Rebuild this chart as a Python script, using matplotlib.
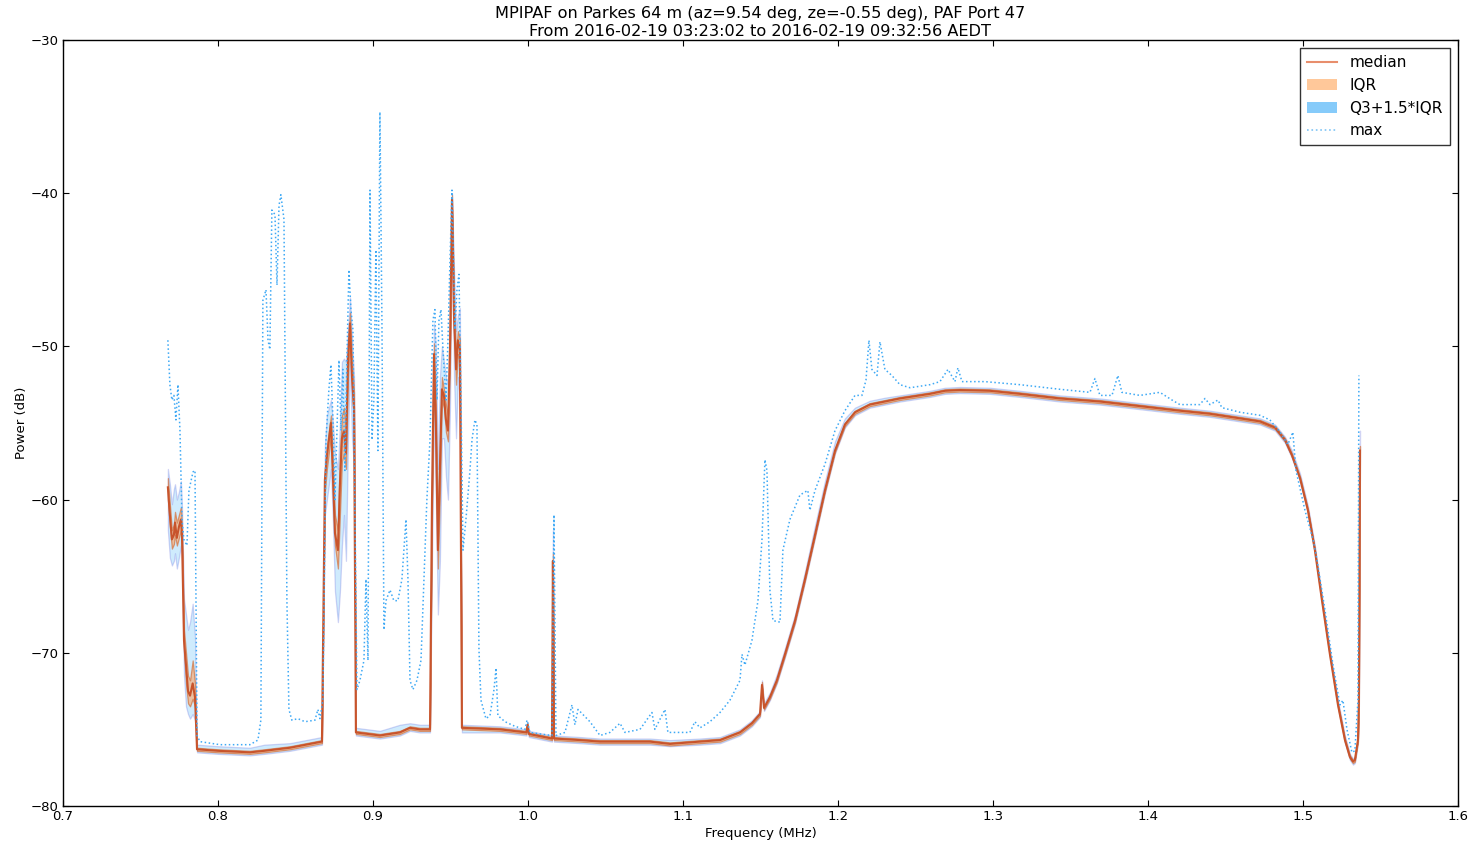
import matplotlib
matplotlib.use("Agg")
import matplotlib.pyplot as plt
from matplotlib.lines import Line2D
from matplotlib.patches import Patch
import numpy as np

# ---- data ----
freq = [0.7677, 0.7690, 0.7703, 0.7716, 0.7723, 0.7735, 0.7748, 0.7761, 0.7768, 0.7781,
        0.7794, 0.7807, 0.7820, 0.7837, 0.7852, 0.7865, 0.8000, 0.8206, 0.8300, 0.8465,
        0.8671, 0.8690, 0.8703, 0.8729, 0.8742, 0.8755, 0.8774, 0.8787, 0.8800, 0.8813,
        0.8826, 0.8839, 0.8852, 0.8865, 0.8878, 0.8890, 0.9045, 0.9174, 0.9239, 0.9303,
        0.9368, 0.9381, 0.9394, 0.9406, 0.9419, 0.9432, 0.9445, 0.9458, 0.9471, 0.9484,
        0.9497, 0.9510, 0.9523, 0.9536, 0.9548, 0.9561, 0.9574, 0.9820, 0.9990, 0.9997,
        1.0006, 1.0155, 1.0161, 1.0168, 1.0335, 1.0465, 1.0787, 1.0916, 1.1110, 1.1240,
        1.1368, 1.1445, 1.1497, 1.1510, 1.1523, 1.1561, 1.1606, 1.1658, 1.1723, 1.1787,
        1.1852, 1.1916, 1.1981, 1.2045, 1.2110, 1.2206, 1.2303, 1.2400, 1.2594, 1.2690,
        1.2787, 1.2980, 1.3174, 1.3432, 1.3690, 1.3948, 1.4206, 1.4400, 1.4594, 1.4723,
        1.4820, 1.4884, 1.4929, 1.4981, 1.5032, 1.5077, 1.5123, 1.5174, 1.5226, 1.5271,
        1.5303, 1.5323, 1.5335, 1.5355, 1.5361, 1.5368]

median = [-59.2, -61.0, -62.6, -62.3, -61.5, -62.5, -61.8, -61.3, -62.3, -69.2,
          -70.8, -72.5, -72.8, -72.0, -72.9, -76.3, -76.4, -76.5, -76.4, -76.2,
          -75.8, -58.7, -57.2, -55.0, -58.5, -62.2, -63.3, -59.0, -56.0, -55.5,
          -57.0, -50.9, -48.5, -52.0, -54.0, -75.2, -75.4, -75.2, -74.9, -75.0,
          -75.0, -60.0, -50.5, -55.0, -63.3, -58.0, -52.8, -53.2, -54.8, -55.5,
          -50.2, -40.4, -48.0, -51.5, -49.6, -50.2, -74.9, -75.0, -75.2, -74.7,
          -75.3, -75.6, -64.0, -75.6, -75.7, -75.8, -75.8, -75.95, -75.8, -75.7,
          -75.2, -74.6, -74.0, -72.1, -73.6, -72.9, -71.8, -70.1, -67.9, -65.2,
          -62.3, -59.4, -56.8, -55.1, -54.3, -53.8, -53.6, -53.4, -53.1, -52.9,
          -52.85, -52.9, -53.1, -53.4, -53.6, -53.9, -54.2, -54.4, -54.7, -54.9,
          -55.3, -56.1, -57.1, -58.6, -60.7, -63.3, -66.6, -70.1, -73.4, -75.7,
          -76.8, -77.1, -77.0, -75.7, -73.1, -56.8]

# quartile bounds (Q1, Q3) and whisker bounds (Q1-1.5*IQR, Q3+1.5*IQR)
q1 = [-60.0, -61.8, -63.2, -62.9, -62.3, -63.0, -62.5, -62.0, -63.0, -70.0,
      -72.0, -73.3, -73.5, -73.0, -73.5, -76.4, -76.5, -76.6, -76.5, -76.3,
      -75.9, -59.5, -58.0, -55.8, -59.5, -63.0, -64.5, -61.0, -57.5, -57.0,
      -58.0, -52.0, -49.5, -53.0, -55.0, -75.3, -75.5, -75.3, -75.0, -75.1,
      -75.1, -61.0, -51.5, -56.0, -64.5, -59.5, -53.5, -54.0, -55.6, -56.2,
      -51.0, -41.0, -49.0, -52.5, -50.5, -51.0, -75.0, -75.1, -75.3, -74.8,
      -75.4, -75.7, -64.5, -75.7, -75.8, -75.9, -75.9, -76.05, -75.9, -75.8,
      -75.3, -74.7, -74.1, -72.3, -73.7, -73.0, -71.9, -70.2, -68.0, -65.3,
      -62.4, -59.5, -56.9, -55.2, -54.4, -53.9, -53.7, -53.5, -53.2, -53.0,
      -52.95, -53.0, -53.2, -53.5, -53.7, -54.0, -54.3, -54.5, -54.8, -55.0,
      -55.4, -56.2, -57.2, -58.7, -60.8, -63.4, -66.7, -70.2, -73.5, -75.8,
      -76.9, -77.2, -77.1, -75.8, -73.3, -57.5]

q3 = [-58.6, -60.3, -62.0, -61.6, -60.8, -61.5, -61.0, -60.5, -61.8, -68.5,
      -70.0, -71.5, -71.8, -70.5, -72.0, -76.2, -76.3, -76.4, -76.3, -76.1,
      -75.7, -58.0, -56.5, -54.5, -57.5, -61.0, -62.0, -57.0, -54.5, -54.0,
      -55.5, -50.0, -47.8, -51.0, -53.0, -75.1, -75.3, -75.1, -74.8, -74.9,
      -74.9, -59.0, -49.8, -54.0, -62.0, -56.5, -52.0, -52.8, -53.8, -54.5,
      -49.5, -40.1, -47.0, -50.5, -49.0, -49.5, -74.8, -74.9, -75.1, -74.6,
      -75.2, -75.5, -63.5, -75.5, -75.6, -75.7, -75.7, -75.85, -75.7, -75.6,
      -75.1, -74.5, -73.9, -71.9, -73.5, -72.8, -71.7, -70.0, -67.8, -65.1,
      -62.2, -59.3, -56.7, -55.0, -54.2, -53.7, -53.5, -53.3, -53.0, -52.8,
      -52.75, -52.8, -53.0, -53.3, -53.5, -53.8, -54.1, -54.3, -54.6, -54.8,
      -55.2, -56.0, -57.0, -58.5, -60.6, -63.2, -66.5, -70.0, -73.3, -75.6,
      -76.7, -77.0, -76.9, -75.6, -72.9, -56.5]

wlo = [-62.0, -63.8, -64.3, -64.0, -63.5, -64.5, -63.8, -63.0, -64.0, -71.5,
       -73.5, -74.0, -74.3, -74.0, -74.4, -76.5, -76.6, -76.7, -76.6, -76.4,
       -76.0, -61.0, -60.0, -58.0, -61.5, -66.0, -68.0, -66.0, -63.0, -61.0,
       -64.0, -56.0, -51.0, -56.0, -58.0, -75.4, -75.6, -75.4, -75.1, -75.2,
       -75.2, -64.0, -54.0, -60.0, -67.5, -64.0, -56.0, -56.0, -58.5, -60.0,
       -54.0, -42.0, -52.0, -56.0, -52.0, -53.5, -75.2, -75.2, -75.4, -74.9,
       -75.5, -75.8, -65.0, -75.8, -75.9, -76.0, -76.0, -76.1, -76.0, -75.9,
       -75.4, -74.8, -74.2, -72.5, -73.8, -73.1, -72.0, -70.3, -68.1, -65.4,
       -62.5, -59.6, -57.0, -55.3, -54.5, -54.0, -53.8, -53.6, -53.3, -53.1,
       -53.05, -53.1, -53.3, -53.6, -53.8, -54.1, -54.4, -54.6, -54.9, -55.1,
       -55.5, -56.3, -57.3, -58.8, -60.9, -63.5, -66.8, -70.3, -73.6, -75.9,
       -77.0, -77.3, -77.2, -75.9, -73.5, -58.0]

whi = [-58.0, -59.0, -60.3, -59.3, -59.0, -60.0, -59.5, -58.8, -60.5, -66.5,
       -67.5, -68.5, -68.0, -66.8, -69.0, -76.0, -76.1, -76.2, -76.0, -75.9,
       -75.5, -56.5, -54.5, -53.5, -55.0, -57.0, -58.0, -55.0, -51.0, -50.8,
       -51.0, -49.0, -46.8, -49.5, -52.0, -74.9, -75.1, -74.7, -74.6, -74.7,
       -74.7, -56.0, -48.5, -50.0, -58.0, -52.0, -50.0, -51.0, -52.0, -52.5,
       -48.5, -40.0, -45.0, -49.0, -48.0, -47.5, -74.7, -74.8, -75.0, -74.5,
       -75.1, -75.4, -62.0, -75.4, -75.5, -75.6, -75.6, -75.7, -75.6, -75.5,
       -75.0, -74.4, -73.8, -71.8, -73.3, -72.6, -71.4, -69.7, -67.5, -64.7,
       -61.7, -58.8, -56.2, -54.7, -54.0, -53.55, -53.35, -53.2, -52.9, -52.7,
       -52.65, -52.7, -52.9, -53.2, -53.4, -53.7, -54.0, -54.2, -54.5, -54.7,
       -55.1, -55.9, -56.8, -58.3, -60.4, -63.0, -66.3, -69.8, -73.1, -75.4,
       -76.6, -76.9, -76.8, -75.4, -72.6, -55.5]

max_freq = [0.7677, 0.7690, 0.7703, 0.7716, 0.7729, 0.7742, 0.7755, 0.7768, 0.7780, 0.7800,
            0.7813, 0.7839, 0.7852, 0.7865, 0.7884, 0.8013, 0.8206, 0.8258, 0.8277, 0.8290,
            0.8310, 0.8323, 0.8335, 0.8348, 0.8368, 0.8381, 0.8394, 0.8406, 0.8426, 0.8445,
            0.8458, 0.8477, 0.8516, 0.8561, 0.8626, 0.8645, 0.8658, 0.8677, 0.8697, 0.8716,
            0.8729, 0.8742, 0.8755, 0.8768, 0.8781, 0.8794, 0.8806, 0.8819, 0.8832, 0.8845,
            0.8858, 0.8871, 0.8884, 0.8897, 0.8916, 0.8942, 0.8955, 0.8968, 0.8981, 0.8994,
            0.9006, 0.9019, 0.9032, 0.9045, 0.9058, 0.9071, 0.9084, 0.9110, 0.9135, 0.9161,
            0.9187, 0.9213, 0.9226, 0.9239, 0.9258, 0.9284, 0.9310, 0.9329, 0.9348, 0.9368,
            0.9387, 0.9400, 0.9413, 0.9426, 0.9439, 0.9452, 0.9471, 0.9484, 0.9497, 0.9510,
            0.9529, 0.9542, 0.9555, 0.9568, 0.9581, 0.9600, 0.9626, 0.9639, 0.9658, 0.9671,
            0.9684, 0.9697, 0.9729, 0.9755, 0.9781, 0.9794, 0.9806, 0.9852, 0.9916, 0.9981,
            0.9994, 1.0013, 1.0077, 1.0155, 1.0168, 1.0181, 1.0239, 1.0284, 1.0303, 1.0323,
            1.0400, 1.0465, 1.0529, 1.0594, 1.0626, 1.0723, 1.0800, 1.0819, 1.0884, 1.0903,
            1.1045, 1.1077, 1.1110, 1.1174, 1.1239, 1.1303, 1.1368, 1.1381, 1.1400, 1.1445,
            1.1484, 1.1510, 1.1529, 1.1542, 1.1561, 1.1581, 1.1626, 1.1645, 1.1690, 1.1755,
            1.1806, 1.1819, 1.1852, 1.1916, 1.1981, 1.2045, 1.2110, 1.2155, 1.2181, 1.2200,
            1.2219, 1.2252, 1.2271, 1.2303, 1.2348, 1.2400, 1.2465, 1.2594, 1.2658, 1.2710,
            1.2755, 1.2774, 1.2800, 1.2948, 1.3174, 1.3432, 1.3626, 1.3658, 1.3690, 1.3768,
            1.3806, 1.3832, 1.3948, 1.4077, 1.4155, 1.4206, 1.4335, 1.4368, 1.4400, 1.4452,
            1.4477, 1.4594, 1.4723, 1.4787, 1.4852, 1.4903, 1.4935, 1.4955, 1.5013, 1.5065,
            1.5090, 1.5142, 1.5194, 1.5239, 1.5258, 1.5284, 1.5316, 1.5335, 1.5355, 1.5361]

max_power = [-49.6, -52.5, -53.5, -53.2, -54.8, -52.5, -55.5, -61.3, -62.6, -63.0,
             -59.4, -58.2, -58.1, -75.4, -75.8, -76.0, -76.0, -75.7, -74.4, -47.0,
             -46.3, -49.6, -50.2, -41.1, -41.4, -46.0, -40.8, -40.1, -41.7, -66.6,
             -73.7, -74.4, -74.3, -74.5, -74.4, -73.7, -74.3, -73.1, -56.1, -52.8,
             -51.2, -54.8, -60.0, -55.5, -50.9, -55.5, -51.5, -58.1, -50.9, -45.0,
             -47.6, -48.9, -61.3, -72.4, -71.8, -70.5, -65.2, -70.5, -39.8, -56.1,
             -53.5, -43.7, -56.8, -34.7, -48.3, -68.5, -66.6, -65.9, -66.6, -66.6,
             -65.2, -61.3, -65.2, -71.8, -72.4, -71.8, -70.5, -65.2, -60.0, -56.1,
             -48.3, -47.6, -53.5, -48.3, -47.6, -50.2, -53.5, -49.6, -44.4, -39.8,
             -48.9, -46.3, -45.3, -53.5, -63.3, -61.3, -58.1, -56.1, -54.8, -55.1,
             -69.8, -73.1, -74.3, -74.1, -72.4, -71.0, -74.1, -74.5, -74.8, -75.0,
             -74.4, -75.2, -75.3, -75.4, -61.0, -75.4, -75.2, -73.4, -74.7, -73.7,
             -74.5, -75.4, -75.2, -74.6, -75.2, -75.0, -73.9, -75.0, -73.7, -75.2,
             -75.2, -74.5, -74.9, -74.5, -73.9, -73.1, -71.8, -70.1, -70.8, -69.2,
             -66.6, -62.6, -57.4, -58.1, -65.9, -67.9, -68.0, -63.3, -61.3, -59.7,
             -59.4, -60.7, -59.4, -57.7, -55.5, -54.2, -53.2, -53.2, -52.2, -49.6,
             -51.5, -51.9, -49.7, -51.5, -51.9, -52.5, -52.7, -52.5, -52.3, -51.5,
             -52.3, -51.4, -52.3, -52.3, -52.5, -52.8, -53.0, -52.1, -53.2, -53.2,
             -51.9, -53.0, -53.2, -53.0, -53.5, -53.8, -53.8, -53.4, -53.8, -53.5,
             -54.0, -54.3, -54.5, -54.8, -55.6, -56.4, -55.6, -58.1, -60.7, -62.6,
             -63.9, -67.2, -70.8, -73.4, -73.1, -75.0, -76.5, -76.4, -73.1, -51.9]

title = ("MPIPAF on Parkes 64 m (az=9.54 deg, ze=-0.55 deg), PAF Port 47\n"
         "From 2016-02-19 03:23:02 to 2016-02-19 09:32:56 AEDT")
xticks = [0.7, 0.8, 0.9, 1.0, 1.1, 1.2, 1.3, 1.4, 1.5, 1.6]
yticks = [-80, -70, -60, -50, -40, -30]

# ---- plotting ----
fig = plt.figure(figsize=(14.74, 8.42), dpi=100)
ax = fig.add_axes([0.0427, 0.0428, 0.9464, 0.9097])

f = np.array(freq)
ax.fill_between(f, wlo, whi, facecolor=(0.53, 0.81, 0.98, 0.4),
                edgecolor=(0.42, 0.45, 0.88, 0.3), linewidth=0.9, zorder=2)
ax.fill_between(f, q1, q3, facecolor=(1.0, 0.62, 0.35, 0.55),
                edgecolor=(0.82, 0.38, 0.15, 0.6), linewidth=0.9, zorder=3)
ax.plot(f, median, color='#c8542c', linewidth=1.5, zorder=4)
ax.plot(max_freq, max_power, color='#3ea9f5', linestyle=':', linewidth=1.1, zorder=5)

ax.set_xlim(0.7, 1.6)
ax.set_ylim(-80, -30)
ax.set_xticks(xticks)
ax.set_xticklabels([f"{t:.1f}" for t in xticks])
ax.set_yticks(yticks)
ax.set_yticklabels([f"\u2212{abs(t)}" for t in yticks])
ax.tick_params(direction='in', top=True, right=True, length=4, width=0.8,
               labelsize=9.5, pad=3)
for s in ax.spines.values():
    s.set_linewidth(1.0)
ax.set_xlabel("Frequency (MHz)", fontsize=9.5, labelpad=3)
ax.set_ylabel("Power (dB)", fontsize=9.5, labelpad=2)
ax.set_title(title, fontsize=11.6, linespacing=1.2, pad=3)

handles = [Line2D([], [], color='#e88e6c', linewidth=1.5),
           Patch(facecolor='#ffc89a', edgecolor='none'),
           Patch(facecolor='#86cbfa', edgecolor='none'),
           Line2D([], [], color='#7ec4f5', linestyle=':', linewidth=1.2)]
leg = ax.legend(handles, ["median", "IQR", "Q3+1.5*IQR", "max"], loc='upper right',
                fancybox=False, fontsize=11, frameon=True, borderaxespad=0.55,
                handlelength=2.0, labelspacing=0.5, handletextpad=0.8,
                borderpad=0.45)
leg.get_frame().set_edgecolor('black')
leg.get_frame().set_linewidth(1.0)

fig.savefig("out.png", dpi=100)
